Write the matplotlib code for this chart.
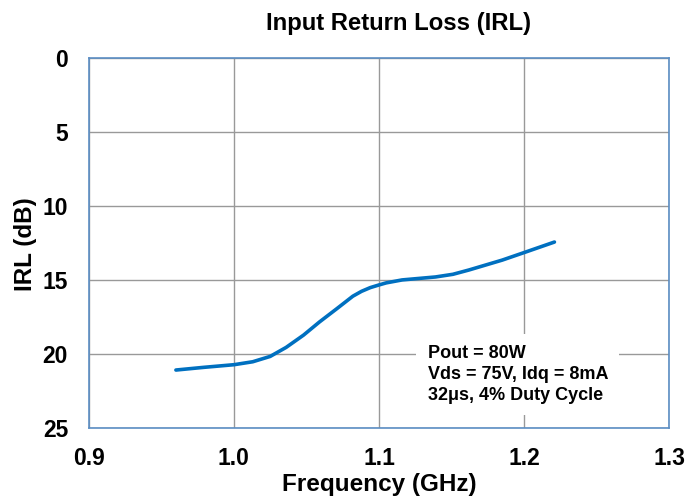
import numpy as np
import matplotlib.pyplot as plt

plt.rcParams['font.family'] = ['Liberation Sans', 'DejaVu Sans']
plt.rcParams['font.weight'] = 'bold'

freq = [0.96, 0.979, 1.0, 1.013, 1.025, 1.036, 1.048, 1.059, 1.071, 1.082, 1.088, 1.094,
        1.1, 1.105, 1.116, 1.139, 1.151, 1.162, 1.185, 1.201, 1.221]
irl = [21.09, 20.91, 20.73, 20.53, 20.17, 19.56, 18.73, 17.84, 16.94, 16.1, 15.77, 15.52,
       15.34, 15.2, 15.0, 14.8, 14.62, 14.33, 13.66, 13.12, 12.44]

xticks = [0.9, 1.0, 1.1, 1.2, 1.3]
yticks = [0, 5, 10, 15, 20, 25]
note = "Pout = 80W\nVds = 75V, Idq = 8mA\n32\u03bcs, 4% Duty Cycle"

fig = plt.figure(figsize=(6.89, 5.04), dpi=100)
ax = fig.add_axes([0.129, 0.151, 0.842, 0.734])

ax.plot(freq, irl, color='#0070c0', lw=2.6, solid_capstyle='round', solid_joinstyle='round')

ax.set_xlim(0.9, 1.3)
ax.set_ylim(25, 0)
ax.set_xticks(xticks)
ax.set_xticklabels(['%.1f' % v for v in xticks])
ax.set_yticks(yticks)
ax.grid(True, color='#999999', lw=1)
ax.tick_params(length=0, labelsize=16.5)
ax.tick_params(axis='x', pad=14)
ax.tick_params(axis='y', pad=15)
for s in ax.spines.values():
    s.set_color('#5b8ec4')
    s.set_linewidth(1.2)

ax.set_title('Input Return Loss (IRL)', fontsize=17.2, fontweight='bold', pad=20, x=0.534)
ax.set_xlabel('Frequency (GHz)', fontsize=17.5, fontweight='bold', labelpad=2)
ax.set_ylabel('IRL (dB)', fontsize=17.5, fontweight='bold')
ax.yaxis.set_label_coords(-0.09, 0.497)

ax.text(1.1335, 19.4, note, fontsize=13, fontweight='bold', va='top', ha='left',
        linespacing=1.3,
        bbox=dict(facecolor='white', edgecolor='none', pad=8))

fig.savefig('out.png', dpi=100)
